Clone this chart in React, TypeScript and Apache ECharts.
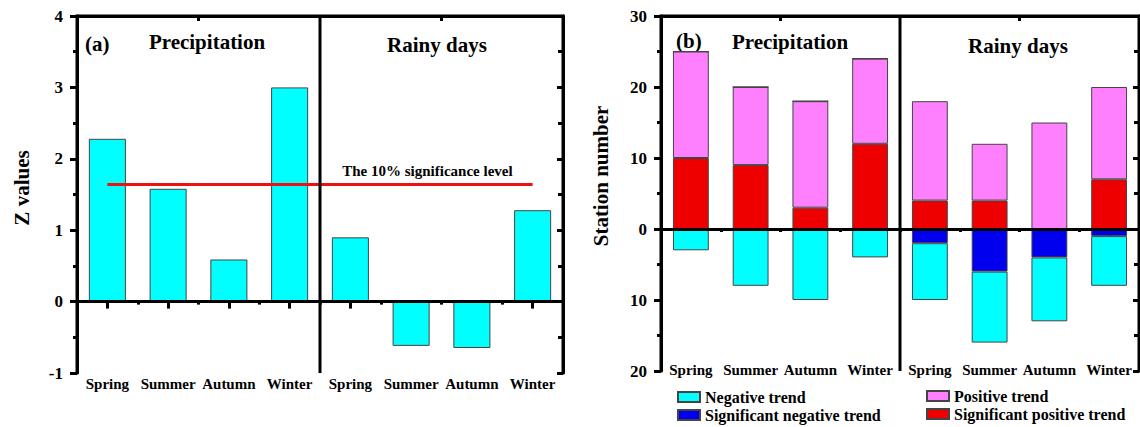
import React, { useEffect, useRef } from 'react';
import * as echarts from 'echarts';

// ---------- data ----------
const seasons = ['Spring', 'Summer', 'Autumn', 'Winter'];
const categories = [...seasons, ...seasons]; // Precipitation | Rainy days
const zPrecip = [2.28, 1.58, 0.59, 3.0];
const zRainy = [0.9, -0.62, -0.65, 1.28];
const significanceLevel = 1.645;

// station numbers (Precipitation Spring..Winter, Rainy days Spring..Winter)
const positiveTrend = [25, 20, 18, 24, 18, 12, 15, 20];
const sigPositiveTrend = [10, 9, 3, 12, 4, 4, 0, 7];
const negativeTrend = [3, 8, 10, 4, 10, 16, 13, 8];
const sigNegativeTrend = [0, 0, 0, 0, 2, 6, 4, 1];

const FONT = '"Liberation Serif", "Times New Roman", serif';
const BLACK = '#000';

// layout
const GRID_A = { left: 77, top: 16, width: 486, height: 357 };
const GRID_B = { left: 661, top: 16, width: 478, height: 355 };

function frameAxes(gridIndex: number, labelMargin: number) {
  return [
    {
      type: 'category', gridIndex, data: categories, position: 'bottom',
      axisLine: { show: true, onZero: true, onZeroAxisIndex: gridIndex * 2, lineStyle: { color: BLACK, width: 3 } },
      axisTick: { show: true, alignWithLabel: true, length: 7, lineStyle: { color: BLACK, width: 3 } },
      axisLabel: { show: false },
    },
    {
      type: 'category', gridIndex, data: categories, position: 'bottom',
      axisLine: { show: false, onZero: false },
      axisTick: { show: false },
      axisLabel: { show: true, interval: 0, margin: labelMargin, color: BLACK, fontFamily: FONT, fontWeight: 'bold', fontSize: 15 },
    },
    {
      type: 'category', gridIndex, data: categories, position: 'bottom',
      axisLine: { show: false, onZero: true, onZeroAxisIndex: gridIndex * 2 + 1 },
      axisTick: { show: true, alignWithLabel: false, interval: 0, length: 3, lineStyle: { color: BLACK, width: 3 } },
      axisLabel: { show: false },
    },
    {
      type: 'category', gridIndex, data: ['A', 'B'], position: 'top',
      axisLine: { show: true, onZero: false, lineStyle: { color: BLACK, width: 3 } },
      axisTick: { show: true, alignWithLabel: true, inside: true, length: 5, lineStyle: { color: BLACK, width: 3 } },
      axisLabel: { show: false },
    },
  ];
}

function valueAxes(gridIndex: number, min: number, max: number, interval: number, fmt: (v: number) => string) {
  const common = { type: 'value', gridIndex, min, max, interval, splitLine: { show: false } };
  return [
    {
      ...common, position: 'left',
      axisLine: { show: true, onZero: false, lineStyle: { color: BLACK, width: 3 } },
      axisTick: { show: true, length: 7, lineStyle: { color: BLACK, width: 3 } },
      minorTick: { show: true, splitNumber: 2, length: 4, lineStyle: { color: BLACK, width: 3 } },
      axisLabel: { show: true, margin: 14, color: BLACK, fontFamily: FONT, fontWeight: 'bold', fontSize: 17, formatter: fmt },
    },
    {
      ...common, position: 'right',
      axisLine: { show: true, onZero: false, lineStyle: { color: BLACK, width: 3 } },
      axisTick: { show: true, inside: true, length: 6, lineStyle: { color: BLACK, width: 3 } },
      minorTick: { show: true, splitNumber: 2, length: 5, lineStyle: { color: BLACK, width: 3 } },
      axisLabel: { show: false },
    },
  ];
}

// frame of a panel: left, right, top border and the separator between the two halves
function frameLines(g: { left: number; top: number; width: number; height: number }) {
  const l = g.left, t = g.top, r = g.left + g.width, b = g.top + g.height, m = g.left + g.width / 2;
  const st = { stroke: BLACK, lineWidth: 3 };
  return [
    { type: 'line', z: 10, shape: { x1: l - 1.5, y1: t, x2: r + 1.5, y2: t }, style: st },
    { type: 'line', z: 10, shape: { x1: l, y1: t, x2: l, y2: b }, style: st },
    { type: 'line', z: 10, shape: { x1: r, y1: t, x2: r, y2: b }, style: st },
    { type: 'line', z: 10, shape: { x1: m, y1: t, x2: m, y2: b }, style: st },
  ];
}

const titleText = (text: string, x: number, y: number, align: string, size = 21, rotation = 0) => ({
  type: 'text', x, y, rotation,
  style: {
    text, fill: BLACK, font: `bold ${size}px ${FONT}`,
    align, verticalAlign: 'middle', textAlign: align, textVerticalAlign: 'middle',
  },
});

const zeroLine = { yAxis: 0, lineStyle: { color: BLACK, width: 3, type: 'solid' }, label: { show: false } };

export default function App() {
  const ref = useRef<HTMLDivElement>(null);

  useEffect(() => {
    if (!ref.current) return;
    const chart = echarts.init(ref.current, undefined, { renderer: 'svg' });

    const posSig = sigPositiveTrend;
    const posRest = positiveTrend.map((v, i) => v - sigPositiveTrend[i]);
    const negSig = sigNegativeTrend.map((v) => -v);
    const negRest = negativeTrend.map((v, i) => -(v - sigNegativeTrend[i]));
    const border = { borderColor: '#444', borderWidth: 1 };

    chart.setOption({
      animation: false,
      backgroundColor: '#fff',
      grid: [
        { ...GRID_A, containLabel: false },
        { ...GRID_B, containLabel: false },
      ],
      xAxis: [...frameAxes(0, 3), ...frameAxes(1, -9)],
      yAxis: [
        ...valueAxes(0, -1, 4, 1, (v: number) => String(v)),
        ...valueAxes(1, -20, 30, 10, (v: number) => String(Math.abs(v))),
      ],
      legend: [
        {
          left: 677, top: 389, orient: 'vertical', padding: 0, itemGap: 2,
          itemWidth: 22, itemHeight: 10, icon: 'rect', selectedMode: false,
          data: ['Negative trend', 'Significant negative trend'],
          textStyle: { color: BLACK, fontFamily: FONT, fontWeight: 'bold', fontSize: 16 },
        },
        {
          left: 926, top: 388, orient: 'vertical', padding: 0, itemGap: 2,
          itemWidth: 22, itemHeight: 10, icon: 'rect', selectedMode: false,
          data: ['Positive trend', 'Significant positive trend'],
          textStyle: { color: BLACK, fontFamily: FONT, fontWeight: 'bold', fontSize: 16 },
        },
      ],
      graphic: [
        ...frameLines(GRID_A),
        ...frameLines(GRID_B),
        titleText('(a)', 85, 44, 'left'),
        titleText('Precipitation', 207, 42, 'center'),
        titleText('Rainy days', 437, 45, 'center'),
        titleText('(b)', 676, 41, 'left'),
        titleText('Precipitation', 790, 42, 'center'),
        titleText('Rainy days', 1018, 46, 'center'),
        titleText('Z values', 22, 188, 'center', 21, Math.PI / 2),
        titleText('Station number', 601, 176, 'center', 21, Math.PI / 2),
      ],
      series: [
        {
          type: 'bar', name: 'Z values', xAxisIndex: 0, yAxisIndex: 0,
          data: [...zPrecip, ...zRainy], barWidth: '61%',
          itemStyle: { color: '#00FFFF', ...border },
          markLine: {
            silent: true, symbol: 'none', z: 5,
            lineStyle: { color: '#EE1111', width: 3, type: 'solid' },
            label: {
              show: true, position: 'insideEndTop', distance: [20, 6],
              formatter: 'The 10% significance level',
              color: BLACK, fontFamily: FONT, fontWeight: 'bold', fontSize: 15,
            },
            data: [
              zeroLine,
              [{ coord: [0, significanceLevel] }, { coord: [7, significanceLevel] }],
            ],
          },
        },
        {
          type: 'bar', name: 'Significant positive trend', xAxisIndex: 4, yAxisIndex: 2,
          stack: 'st', data: posSig, barWidth: '60%',
          itemStyle: { color: '#EE0000', ...border },
        },
        {
          type: 'bar', name: 'Positive trend', xAxisIndex: 4, yAxisIndex: 2,
          stack: 'st', data: posRest, barWidth: '60%',
          itemStyle: { color: '#FF80FF', ...border },
        },
        {
          type: 'bar', name: 'Significant negative trend', xAxisIndex: 4, yAxisIndex: 2,
          stack: 'st', data: negSig, barWidth: '60%',
          itemStyle: { color: '#0000EE', ...border },
        },
        {
          type: 'bar', name: 'Negative trend', xAxisIndex: 4, yAxisIndex: 2,
          stack: 'st', data: negRest, barWidth: '60%',
          itemStyle: { color: '#00FFFF', ...border },
          markLine: { silent: true, symbol: 'none', z: 5, data: [zeroLine] },
        },
      ],
    });

    return () => chart.dispose();
  }, []);

  return (
    <div
      ref={ref}
      style={{ position: 'fixed', left: 0, top: 0, width: 1140, height: 427, background: '#fff' }}
    />
  );
}
